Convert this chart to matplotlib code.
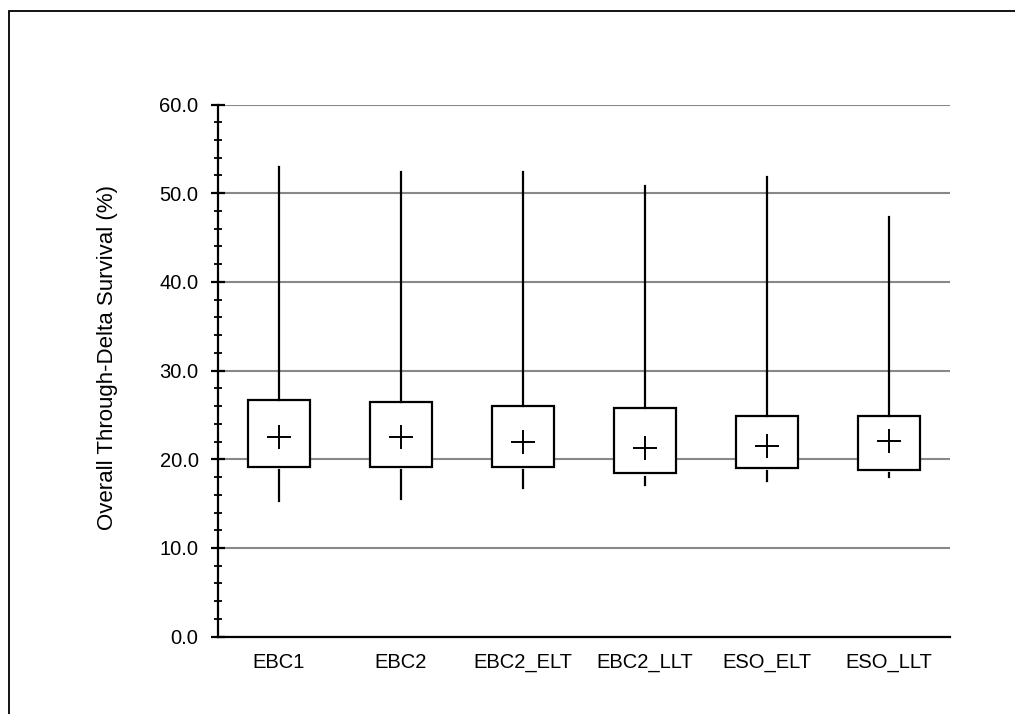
import matplotlib
matplotlib.use("Agg")
import matplotlib.pyplot as plt
from matplotlib.patches import Rectangle
from matplotlib.ticker import MultipleLocator, FormatStrFormatter

plt.rcParams['font.family'] = ['Liberation Sans', 'DejaVu Sans']

# data
categories = ["EBC1", "EBC2", "EBC2_ELT", "EBC2_LLT", "ESO_ELT", "ESO_LLT"]
whisker_low = [15.3, 15.5, 16.8, 17.1, 17.5, 18.0]
box_low = [19.1, 19.1, 19.1, 18.4, 19.05, 18.8]
box_high = [26.7, 26.5, 26.0, 25.8, 24.9, 24.9]
whisker_high = [52.9, 52.4, 52.4, 50.8, 51.8, 47.3]
means = [22.5, 22.5, 21.9, 21.3, 21.5, 22.1]

stats = []
for i, name in enumerate(categories):
    stats.append({
        "label": name,
        "whislo": whisker_low[i], "q1": box_low[i],
        "med": (box_low[i] + box_high[i]) / 2,
        "q3": box_high[i], "whishi": whisker_high[i],
        "mean": means[i], "fliers": [],
    })

fig = plt.figure(figsize=(10.15, 7.14), dpi=100)
ax = fig.add_axes([0.2148, 0.1083, 0.7212, 0.7453])

parts = ax.bxp(stats, positions=range(len(categories)), widths=0.51, showmeans=True,
               showcaps=False, showfliers=False, patch_artist=True,
               boxprops=dict(facecolor="white", edgecolor="black", linewidth=1.6),
               whiskerprops=dict(color="black", linewidth=1.6),
               medianprops=dict(linewidth=0),
               meanprops=dict(marker="+", markersize=17, markeredgecolor="black",
                              markeredgewidth=1.4))

# lower whiskers start a little below the box in the original
for line in parts["whiskers"][0::2]:
    x, y = line.get_data()
    line.set_data(x, [y[0] - 0.35, y[1]])

ax.set_xlim(-0.5, len(categories) - 0.5)
ax.set_ylim(0, 60)
ax.yaxis.set_major_locator(MultipleLocator(10))
ax.yaxis.set_minor_locator(MultipleLocator(2))
ax.yaxis.set_major_formatter(FormatStrFormatter("%.1f"))
ax.yaxis.grid(True, color="#888888", linewidth=1.5)
ax.set_axisbelow(True)

for side in ["top", "right"]:
    ax.spines[side].set_visible(False)
for side in ["left", "bottom"]:
    ax.spines[side].set_linewidth(1.6)

ax.tick_params(axis="y", which="major", direction="inout", length=10, width=1.6,
               labelsize=14.5, pad=9)
ax.tick_params(axis="y", which="minor", direction="inout", length=6, width=1.3)
ax.tick_params(axis="x", length=0, labelsize=14.5, pad=11.5)

ax.set_ylabel("Overall Through-Delta Survival (%)", fontsize=16)
ax.yaxis.set_label_coords(-0.137, 0.525)

# outer frame, open to the right and bottom edges
fig.patches.append(Rectangle((9 / 1015, -0.1), 1.2, 1 - 11 / 714 + 0.1,
                             transform=fig.transFigure, fill=False,
                             edgecolor="black", linewidth=1.3))

fig.savefig("out.png", dpi=100)
